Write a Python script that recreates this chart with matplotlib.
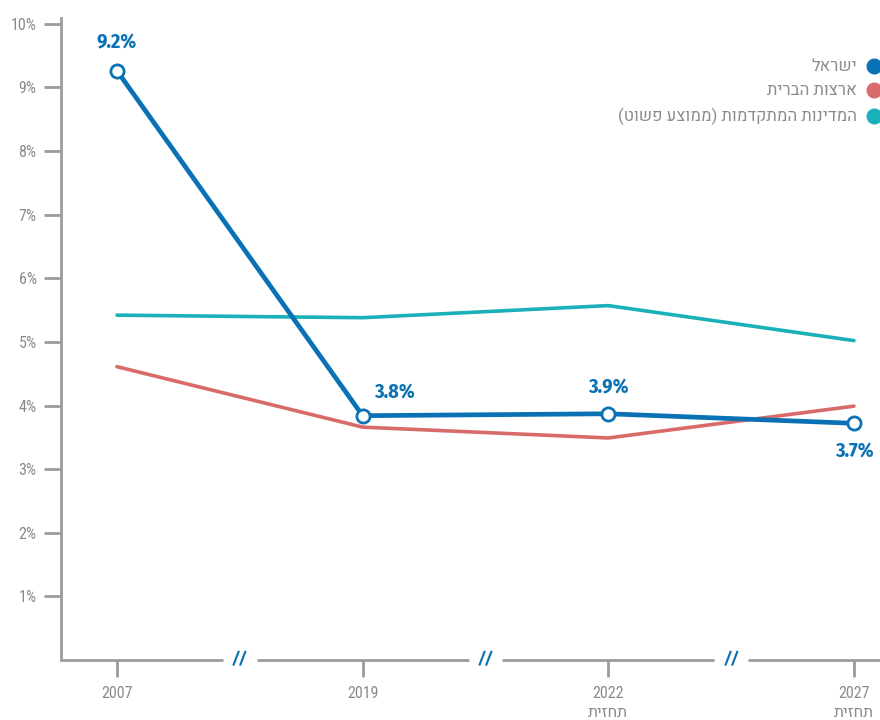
import matplotlib
matplotlib.use("Agg")
import matplotlib.pyplot as plt
import matplotlib.transforms as mtransforms
from matplotlib.lines import Line2D

years = ["2007", "2019", "2022", "2027"]
forecast = ["", "", "תחזית", "תחזית"]
israel = [9.26, 3.84, 3.87, 3.72]
usa = [4.61, 3.66, 3.49, 3.99]
advanced = [5.42, 5.38, 5.57, 5.02]
israel_labels = ["9.2%", "3.8%", "3.9%", "3.7%"]
series_names = ["ישראל", "ארצות הברית", "המדינות המתקדמות (ממוצע פשוט)"]
yticks = [1, 2, 3, 4, 5, 6, 7, 8, 9, 10]


def vis(s):
    """Logical Hebrew -> visual order (matplotlib draws left to right)."""
    r = s[::-1]
    return r.translate(str.maketrans("()", ")("))


BLUE = "#0a72b4"
RED = "#d96a6a"
TEAL = "#1ab0b8"
AX = "#9c9ca0"
TXT = "#8a8a8c"

FONT = ["Roboto Condensed", "Heebo", "DejaVu Sans"]
BOLDFONT = ["Fira Sans Condensed", "Roboto Condensed", "DejaVu Sans"]
plt.rcParams["font.family"] = FONT

fig = plt.figure(figsize=(8.8, 7.2), dpi=100)
ax = fig.add_axes([0.0693, 0.0833, 0.9307, 0.8917])
x = list(range(len(years)))

ax.plot(x, advanced, color=TEAL, lw=2.6, solid_capstyle="round", zorder=2)
ax.plot(x, usa, color=RED, lw=2.6, solid_capstyle="round", zorder=2)
ax.plot(x, israel, color=BLUE, lw=3.4, solid_capstyle="round", zorder=3,
        marker="o", ms=9.5, mfc="white", mec=BLUE, mew=2.0)

offsets = [(0, 13, "center", "bottom"), (8, 10, "left", "bottom"),
           (0, 12, "center", "bottom"), (0, -13, "center", "top")]
for xi, v, lab, (dx, dy, ha, va) in zip(x, israel, israel_labels, offsets):
    ax.annotate(lab, (xi, v), xytext=(dx, dy), textcoords="offset points",
                ha=ha, va=va, color=BLUE, fontsize=14.5, fontweight="bold",
                family=BOLDFONT)

ax.set_xlim(-0.228, 3.106)
ax.set_ylim(0, 10.09)
ax.set_yticks(yticks)
ax.set_yticklabels([f"{t}%" for t in yticks])
ax.set_xticks(x)
ax.set_xticklabels([y + ("\n" + vis(f) if f else "") for y, f in zip(years, forecast)],
                   va="top", linespacing=1.3)
ax.tick_params(axis="y", colors=AX, labelcolor=TXT, length=12, width=2,
               labelsize=11.5, pad=5.5)
ax.tick_params(axis="x", colors=AX, labelcolor=TXT, length=12, width=2,
               labelsize=11.5, pad=7)
for s in ["top", "right", "bottom"]:
    ax.spines[s].set_visible(False)
ax.spines["left"].set_color(AX)
ax.spines["left"].set_linewidth(2)

# broken bottom axis
trans = mtransforms.blended_transform_factory(ax.transData, ax.transAxes)
mids = [(x[i] + x[i + 1]) / 2 for i in range(len(x) - 1)]
gap = 0.068
edges = [ax.get_xlim()[0]] + [e for m in mids for e in (m - gap, m + gap)] + [ax.get_xlim()[1]]
for a, b in zip(edges[0::2], edges[1::2]):
    ax.plot([a, b], [0, 0], color=AX, lw=2, transform=trans, clip_on=False,
            solid_capstyle="butt", zorder=1)
for m in mids:
    ax.text(m, 0, "//", transform=trans, ha="center", va="center", color=BLUE,
            fontsize=12, fontweight="bold", style="italic", family=BOLDFONT)

# legend
colors = [BLUE, RED, TEAL]
ly = [0.908, 0.875, 0.839]
for name, c, yy in zip(series_names, colors, ly):
    fig.text(0.974, yy, vis(name), ha="right", va="center", color=TXT, fontsize=12,
             family=["Heebo", "DejaVu Sans"], fontweight="light")
    fig.add_artist(Line2D([0.993], [yy], marker="o", ms=10.5, color=c, mec=c,
                          linestyle="none", transform=fig.transFigure))

fig.savefig("out.png", dpi=100)
